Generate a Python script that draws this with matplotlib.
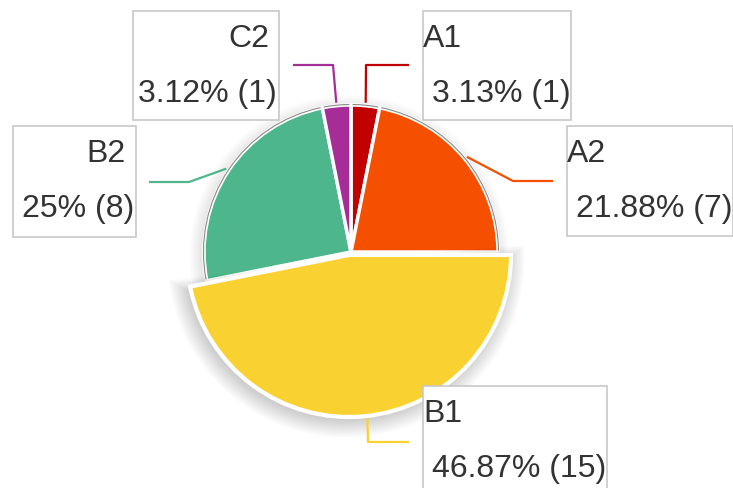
import matplotlib.pyplot as plt
from matplotlib.patches import Wedge, Rectangle, Arc
import numpy as np

W, H = 733, 489

# chart data
labels = ["A1", "A2", "B1", "B2", "C2"]
counts = [1, 7, 15, 8, 1]
pct_text = ["3.13%", "21.88%", "46.87%", "25%", "3.12%"]
colors = ["#c10000", "#f54f00", "#f9d232", "#4db68d", "#a62c98"]

# layout in pixels (top-down): box left, box top, box width, box height, align, elbow, line end
boxes = {
    "A1": (423, 12, 148, 109, "left", (366, 66), (409, 66)),
    "A2": (567, 127, 166, 110, "left", (513, 182), (553, 182)),
    "B1": (423, 387, 184, 110, "left", (368, 443), (409, 443)),
    "B2": (13, 127, 123, 111, "right", (189, 183), (149, 183)),
    "C2": (133, 12, 146, 109, "right", (333, 66), (293, 66)),
}

def py(y):
    return H - y

cx, cy, r = 351, 253, 147
hover = "B1"

plt.rcParams['font.family'] = ['Liberation Sans', 'DejaVu Sans']
fig = plt.figure(figsize=(W / 100, H / 100), dpi=100)
ax = fig.add_axes([0, 0, 1, 1])

wedges, _ = ax.pie(counts, colors=colors, startangle=90, counterclock=False,
                   center=(cx, py(cy)), radius=r, frame=True,
                   wedgeprops=dict(edgecolor='white', linewidth=2.5))
ax.set_xlim(0, W)
ax.set_ylim(0, H)
ax.set_aspect('equal')
ax.axis('off')

# soft shadow under the whole pie
for k in range(8):
    ax.add_patch(Wedge((cx - 2, py(cy) - 3), r + 2 + k * 1.5, 0, 360,
                       facecolor='black', alpha=0.01, lw=0, zorder=0))

for w, lab in zip(wedges, labels):
    if lab == hover:
        w.set_center((cx - 2, py(cy + 3)))
        w.set_radius(r + 15)
        w.set_zorder(5)
        w.set_linewidth(3)
        # shadow of the hovered slice
        for k in range(12):
            ax.add_patch(Wedge((cx - 5, py(cy + 7)), r + 15 + k * 1.5,
                               w.theta1 - k * 0.4, w.theta2 + k * 0.4,
                               facecolor='black', alpha=0.014, lw=0, zorder=4))
    else:
        w.set_zorder(2)
        ax.add_patch(Arc((cx, py(cy)), 2 * r + 1, 2 * r + 1, theta1=w.theta1 + 0.6,
                         theta2=w.theta2 - 0.6, color='#8a8a8a', lw=0.8, zorder=3))

# connectors and label boxes
for i, (w, lab) in enumerate(zip(wedges, labels)):
    bx, by, bw, bh, align, elbow, end = boxes[lab]
    mid = np.deg2rad((w.theta1 + w.theta2) / 2)
    r0 = r + 3 if lab != hover else r + 20
    sx = cx + r0 * np.cos(mid)
    sy = py(cy) + r0 * np.sin(mid)
    ax.plot([sx, elbow[0], end[0]], [sy, py(elbow[1]), py(end[1])],
            color=colors[i], lw=1.6, zorder=6, solid_capstyle='butt')
    ax.add_patch(Rectangle((bx, py(by + bh)), bw, bh, facecolor='white',
                           edgecolor='#c8c8c8', lw=1.2, zorder=6))
    line2 = f"{pct_text[i]} ({counts[i]})"
    if align == "left":
        ax.text(bx, py(by + 27), lab, ha='left', va='center', fontsize=23,
                color='#333333', zorder=7)
        ax.text(bx + 9, py(by + 82), line2, ha='left', va='center', fontsize=23,
                color='#333333', zorder=7)
    else:
        ax.text(bx + bw - 10, py(by + 27), lab, ha='right', va='center', fontsize=23,
                color='#333333', zorder=7)
        ax.text(bx + bw - 2, py(by + 82), line2, ha='right', va='center', fontsize=23,
                color='#333333', zorder=7)

fig.savefig('out.png', dpi=100)
